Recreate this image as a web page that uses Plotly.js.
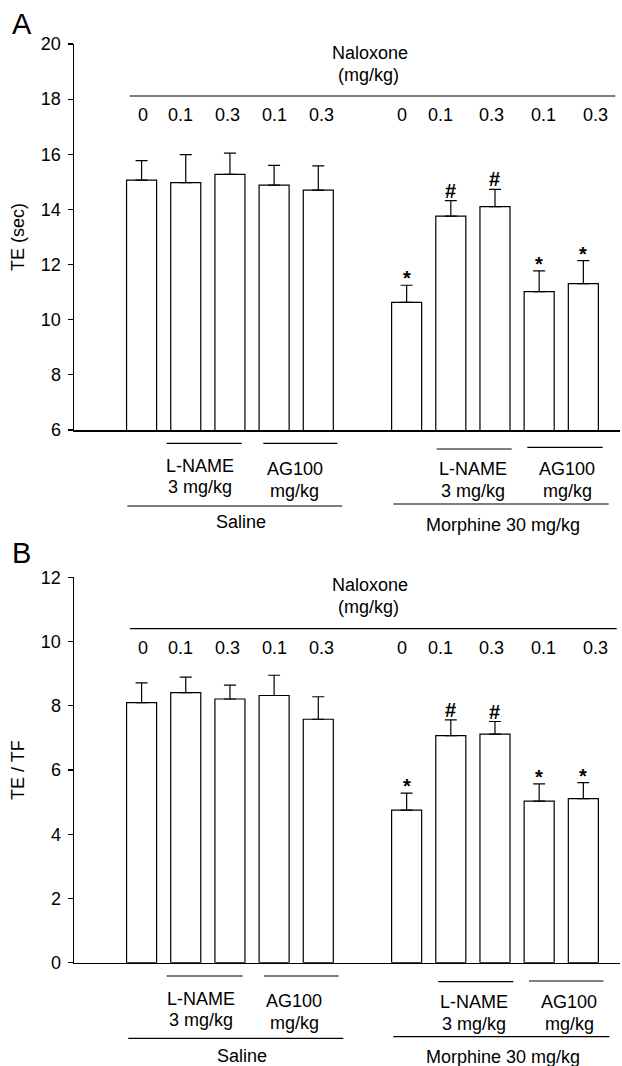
<!DOCTYPE html>
<html>
<head>
<meta charset="utf-8">
<script src="https://cdn.plot.ly/plotly-3.0.1.min.js"></script>
<style>html,body{margin:0;padding:0;background:#fff;}#chart{width:622px;height:1066px;}</style>
</head>
<body>
<div id="chart"></div>
<script>
// ---- data ----
const categories = [
  'Saline / Nal 0', 'Saline / L-NAME / Nal 0.1', 'Saline / L-NAME / Nal 0.3',
  'Saline / AG100 / Nal 0.1', 'Saline / AG100 / Nal 0.3',
  'Morphine / Nal 0', 'Morphine / L-NAME / Nal 0.1', 'Morphine / L-NAME / Nal 0.3',
  'Morphine / AG100 / Nal 0.1', 'Morphine / AG100 / Nal 0.3'
];
const doseLabels = ['0', '0.1', '0.3', '0.1', '0.3', '0', '0.1', '0.3', '0.1', '0.3'];
const teMean = [15.06, 14.97, 15.27, 14.88, 14.70, 10.63, 13.76, 14.10, 11.02, 11.31];
const teSem = [0.71, 1.02, 0.77, 0.72, 0.88, 0.62, 0.56, 0.63, 0.75, 0.83];
const ratioMean = [8.10, 8.41, 8.21, 8.32, 7.58, 4.75, 7.07, 7.12, 5.03, 5.11];
const ratioSem = [0.61, 0.48, 0.43, 0.63, 0.70, 0.53, 0.49, 0.39, 0.54, 0.50];
const sigMarks = ['', '', '', '', '', '*', '#', '#', '*', '*'];
const yTicksA = [6, 8, 10, 12, 14, 16, 18, 20];
const yTicksB = [0, 2, 4, 6, 8, 10, 12];

// ---- layout helpers ----
const W = 622, H = 1066;
const px = v => v / W;
const py = v => 1 - v / H;
const FONT = '"Liberation Sans", Arial, Helvetica, sans-serif';
const FS = 18;
const categoryOrder = categories.slice(0, 5).concat([' '], categories.slice(5));
const labelShift = [1, -5, -2, 0, 3, -5, -10, -3, 4, 12];

function barTrace(mean, sem, xa, ya) {
  return {
    type: 'bar', x: categories, y: mean, xaxis: xa, yaxis: ya,
    width: 0.68,
    marker: {color: '#ffffff', line: {color: '#000000', width: 1.2}},
    error_y: {type: 'data', array: sem, symmetric: false, arrayminus: sem.map(() => 0),
              color: '#000000', thickness: 1.2, width: 6},
    hoverinfo: 'skip', showlegend: false
  };
}

const data = [
  barTrace(teMean, teSem, 'x', 'y'),
  barTrace(ratioMean, ratioSem, 'x2', 'y2')
];

const xCommon = {
  type: 'category', categoryorder: 'array', categoryarray: categoryOrder,
  range: [-1.53, 10.83], showline: true, linecolor: '#000', linewidth: 1.6,
  ticks: '', showticklabels: false, showgrid: false, zeroline: false, fixedrange: true
};
const yCommon = {
  showline: true, linecolor: '#000', linewidth: 1.5, ticks: 'outside', ticklen: 5,
  tickwidth: 1.2, tickcolor: '#000', showgrid: false, zeroline: false,
  tickfont: {family: FONT, size: FS, color: '#000'}, ticklabelstandoff: 3, fixedrange: true
};

const panels = [
  {xa: 'x', ya: 'y', mean: teMean, sem: teSem, letter: 'A', letterY: 24, ytitle: 'TE (sec)', ytitleY: 237,
   nal1: 53, nal2: 75, nalLine: 96, nalX0: 129.7, nalX1: 615.3, doseY: 115,
   sub: [
     {x0: 166.7, x1: 241.7, y: 443.3, t1: 'L-NAME', t2: '3 mg/kg', tx: 200, ty1: 465.5, ty2: 486.5},
     {x0: 263.3, x1: 337.3, y: 443.3, t1: 'AG100', t2: 'mg/kg', tx: 294.5, ty1: 469.3, ty2: 490.7},
     {x0: 436.7, x1: 511.7, y: 449, t1: 'L-NAME', t2: '3 mg/kg', tx: 472.5, ty1: 469.3, ty2: 490.7},
     {x0: 527.3, x1: 602.7, y: 447.3, t1: 'AG100', t2: 'mg/kg', tx: 567, ty1: 469.3, ty2: 490.7}
   ],
   grp: [
     {x0: 127.3, x1: 342.3, y: 506, t: 'Saline', tx: 240.7, ty: 521.7},
     {x0: 393.3, x1: 608.7, y: 504, t: 'Morphine 30 mg/kg', tx: 503.3, ty: 525}
   ]},
  {xa: 'x2', ya: 'y2', mean: ratioMean, sem: ratioSem, letter: 'B', letterY: 553, ytitle: 'TE / TF', ytitleY: 770,
   nal1: 585, nal2: 607.3, nalLine: 628.7, nalX0: 130, nalX1: 616.7, doseY: 647.7,
   sub: [
     {x0: 166.7, x1: 242.7, y: 976, t1: 'L-NAME', t2: '3 mg/kg', tx: 200.7, ty1: 999.3, ty2: 1020},
     {x0: 264, x1: 338.7, y: 976, t1: 'AG100', t2: 'mg/kg', tx: 294.3, ty1: 1000.7, ty2: 1023.3},
     {x0: 438.3, x1: 513.3, y: 981.7, t1: 'L-NAME', t2: '3 mg/kg', tx: 474.3, ty1: 1001.7, ty2: 1024},
     {x0: 529, x1: 603.3, y: 981, t1: 'AG100', t2: 'mg/kg', tx: 569, ty1: 1001.7, ty2: 1024}
   ],
   grp: [
     {x0: 128.3, x1: 343.3, y: 1038.3, t: 'Saline', tx: 241.7, ty: 1055.7},
     {x0: 393.3, x1: 609.3, y: 1036.7, t: 'Morphine 30 mg/kg', tx: 503.3, ty: 1056.7}
   ]}
];

const annotations = [];
const shapes = [];
const txt = (text, x, y, extra) => Object.assign({
  text: text, xref: 'paper', yref: 'paper', x: px(x), y: py(y),
  xanchor: 'center', yanchor: 'middle', showarrow: false,
  font: {family: FONT, size: FS, color: '#000'}
}, extra || {});
const hline = (x0, x1, y, w) => ({
  type: 'line', xref: 'paper', yref: 'paper', x0: px(x0), x1: px(x1), y0: py(y), y1: py(y),
  line: {color: '#000', width: w || 1.2}
});

panels.forEach(p => {
  annotations.push(txt(p.letter, 21.5, p.letterY, {font: {family: FONT, size: 29, color: '#000'}}));
  annotations.push(txt(p.ytitle, 18, p.ytitleY, {textangle: -90}));
  annotations.push(txt('Naloxone', 370, p.nal1));
  annotations.push(txt('(mg/kg)', 368.5, p.nal2));
  shapes.push(hline(p.nalX0, p.nalX1, p.nalLine));
  doseLabels.forEach((d, i) => {
    annotations.push({
      text: d, xref: p.xa, yref: 'paper', x: categories[i], y: py(p.doseY),
      xshift: labelShift[i], xanchor: 'center', yanchor: 'middle', showarrow: false,
      font: {family: FONT, size: FS, color: '#000'}
    });
  });
  sigMarks.forEach((m, i) => {
    if (!m) return;
    annotations.push({
      text: '<b>' + m + '</b>', xref: p.xa, yref: p.ya, x: categories[i], y: p.mean[i] + p.sem[i],
      xanchor: 'center', yanchor: 'bottom', yshift: m === '*' ? -6 : -3, showarrow: false,
      font: {family: FONT, size: 20, color: '#000'}
    });
  });
  p.sub.forEach(s => {
    shapes.push(hline(s.x0, s.x1, s.y));
    annotations.push(txt(s.t1, s.tx, s.ty1));
    annotations.push(txt(s.t2, s.tx, s.ty2));
  });
  p.grp.forEach(g => {
    shapes.push(hline(g.x0, g.x1, g.y));
    annotations.push(txt(g.t, g.tx, g.ty));
  });
});

const layout = {
  width: W, height: H,
  margin: {l: 0, r: 0, t: 0, b: 0},
  paper_bgcolor: '#fff', plot_bgcolor: '#fff',
  font: {family: FONT, size: FS, color: '#000'},
  showlegend: false, bargap: 0,
  xaxis: Object.assign({}, xCommon, {domain: [px(74), px(620)], anchor: 'y'}),
  yaxis: Object.assign({}, yCommon, {domain: [py(430), py(44)], range: [6, 20],
         tickvals: yTicksA, ticktext: yTicksA.map(String), anchor: 'x'}),
  xaxis2: Object.assign({}, xCommon, {domain: [px(74), px(620)], anchor: 'y2'}),
  yaxis2: Object.assign({}, yCommon, {domain: [py(962.7), py(577.3)], range: [0, 12],
         tickvals: yTicksB, ticktext: yTicksB.map(String), anchor: 'x2'}),
  annotations: annotations,
  shapes: shapes
};

Plotly.newPlot('chart', data, layout, {displayModeBar: false, staticPlot: true});
</script>
</body>
</html>
